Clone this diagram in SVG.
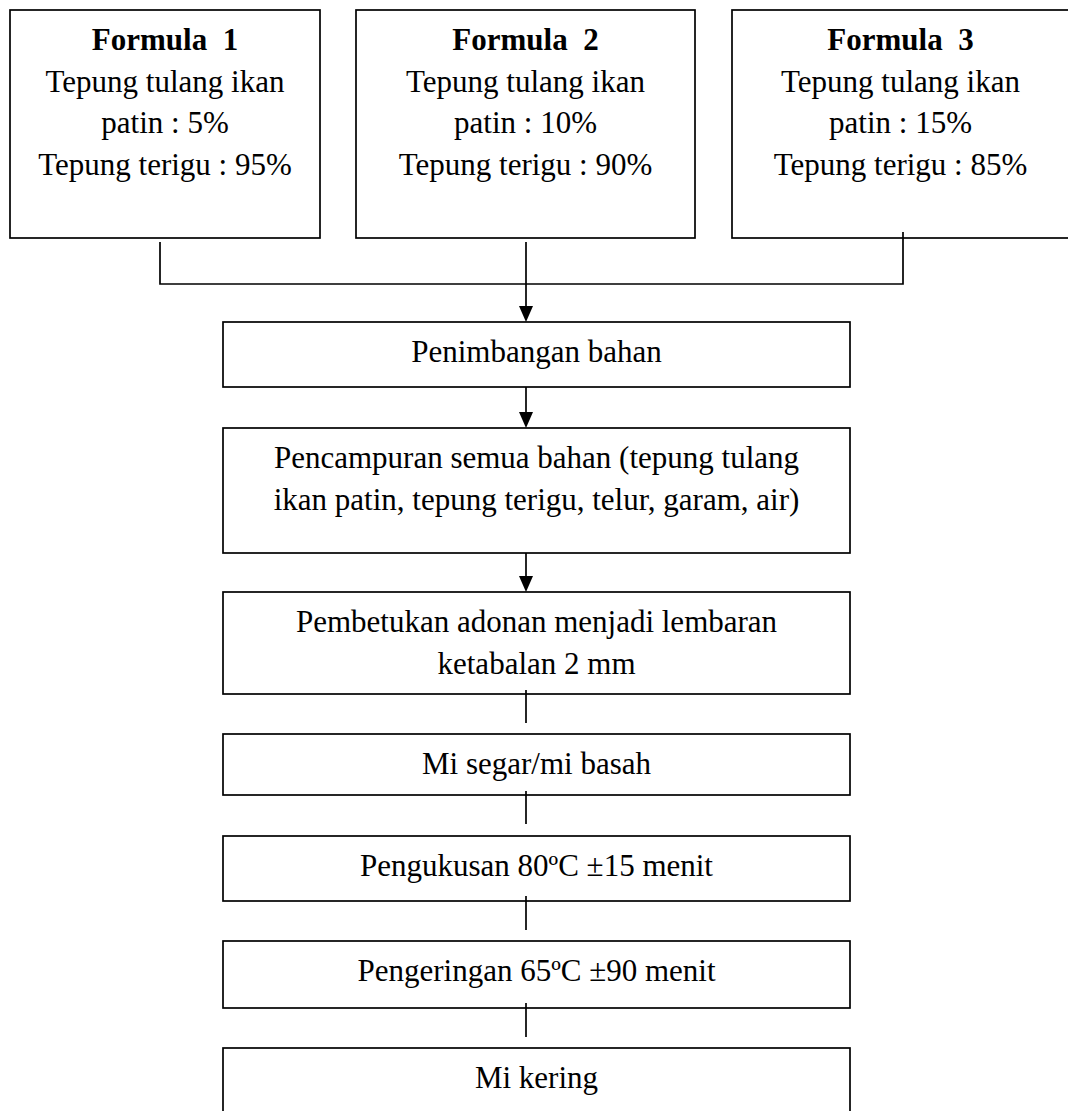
<svg xmlns="http://www.w3.org/2000/svg" width="1068" height="1111" viewBox="0 0 1068 1111">
<style>
.box{fill:#fff;stroke:#000;stroke-width:1.7}
.t{font-family:"Liberation Serif","Times New Roman",serif;font-size:31px;fill:#000;text-anchor:middle;white-space:pre}
.b{font-weight:bold}
.c{fill:none;stroke:#000;stroke-width:1.7}
</style>
<defs>
<marker id="ah" markerUnits="userSpaceOnUse" markerWidth="16" markerHeight="18" refX="8" refY="16" orient="auto-start-reverse" viewBox="0 0 16 18">
<path d="M0,0 L16,0 L8,16 Z" fill="#000" transform="rotate(0)"/>
</marker>
</defs>
<rect width="1068" height="1111" fill="#fff"/>
<g id="formula1">
<rect class="box" x="10" y="10" width="310" height="228"/>
<text class="t b" x="165" y="50">Formula  1</text>
<text class="t" x="165" y="92">Tepung tulang ikan</text>
<text class="t" x="165" y="133">patin : 5%</text>
<text class="t" x="165" y="175">Tepung terigu : 95%</text>
</g>
<g id="formula2">
<rect class="box" x="356" y="10" width="339" height="228"/>
<text class="t b" x="525.5" y="50">Formula  2</text>
<text class="t" x="525.5" y="92">Tepung tulang ikan</text>
<text class="t" x="525.5" y="133">patin : 10%</text>
<text class="t" x="525.5" y="175">Tepung terigu : 90%</text>
</g>
<g id="formula3">
<rect class="box" x="732" y="10" width="337" height="228"/>
<text class="t b" x="900.5" y="50">Formula  3</text>
<text class="t" x="900.5" y="92">Tepung tulang ikan</text>
<text class="t" x="900.5" y="133">patin : 15%</text>
<text class="t" x="900.5" y="175">Tepung terigu : 85%</text>
</g>
<g id="penimbangan">
<rect class="box" x="223" y="322" width="627" height="65"/>
<text class="t" x="536.5" y="362">Penimbangan bahan</text>
</g>
<g id="pencampuran">
<rect class="box" x="223" y="428" width="627" height="125"/>
<text class="t" x="536.5" y="468">Pencampuran semua bahan (tepung tulang</text>
<text class="t" x="536.5" y="510">ikan patin, tepung terigu, telur, garam, air)</text>
</g>
<g id="pembetukan">
<rect class="box" x="223" y="592" width="627" height="102"/>
<text class="t" x="536.5" y="632">Pembetukan adonan menjadi lembaran</text>
<text class="t" x="536.5" y="674">ketabalan 2 mm</text>
</g>
<g id="misegar">
<rect class="box" x="223" y="734" width="627" height="61"/>
<text class="t" x="536.5" y="774">Mi segar/mi basah</text>
</g>
<g id="pengukusan">
<rect class="box" x="223" y="836" width="627" height="65"/>
<text class="t" x="536.5" y="876">Pengukusan 80ºC ±15 menit</text>
</g>
<g id="pengeringan">
<rect class="box" x="223" y="941" width="627" height="67"/>
<text class="t" x="536.5" y="981">Pengeringan 65ºC ±90 menit</text>
</g>
<g id="mikering">
<rect class="box" x="223" y="1048" width="627" height="90"/>
<text class="t" x="536.5" y="1088">Mi kering</text>
</g>
<g id="connectors">
<path class="c" d="M160,242 V284 H903 V232"/>
<path class="c" d="M526,242 V306"/>
<path d="M519,306 L533,306 L526,322 Z" fill="#000"/>
<path class="c" d="M526,387 V412"/>
<path d="M519,412 L533,412 L526,428 Z" fill="#000"/>
<path class="c" d="M526,553 V576"/>
<path d="M519,576 L533,576 L526,592 Z" fill="#000"/>
<path class="c" d="M526,690 V723"/>
<path class="c" d="M526,791 V824"/>
<path class="c" d="M526,896 V930"/>
<path class="c" d="M526,1003 V1037"/>
</g>
</svg>
